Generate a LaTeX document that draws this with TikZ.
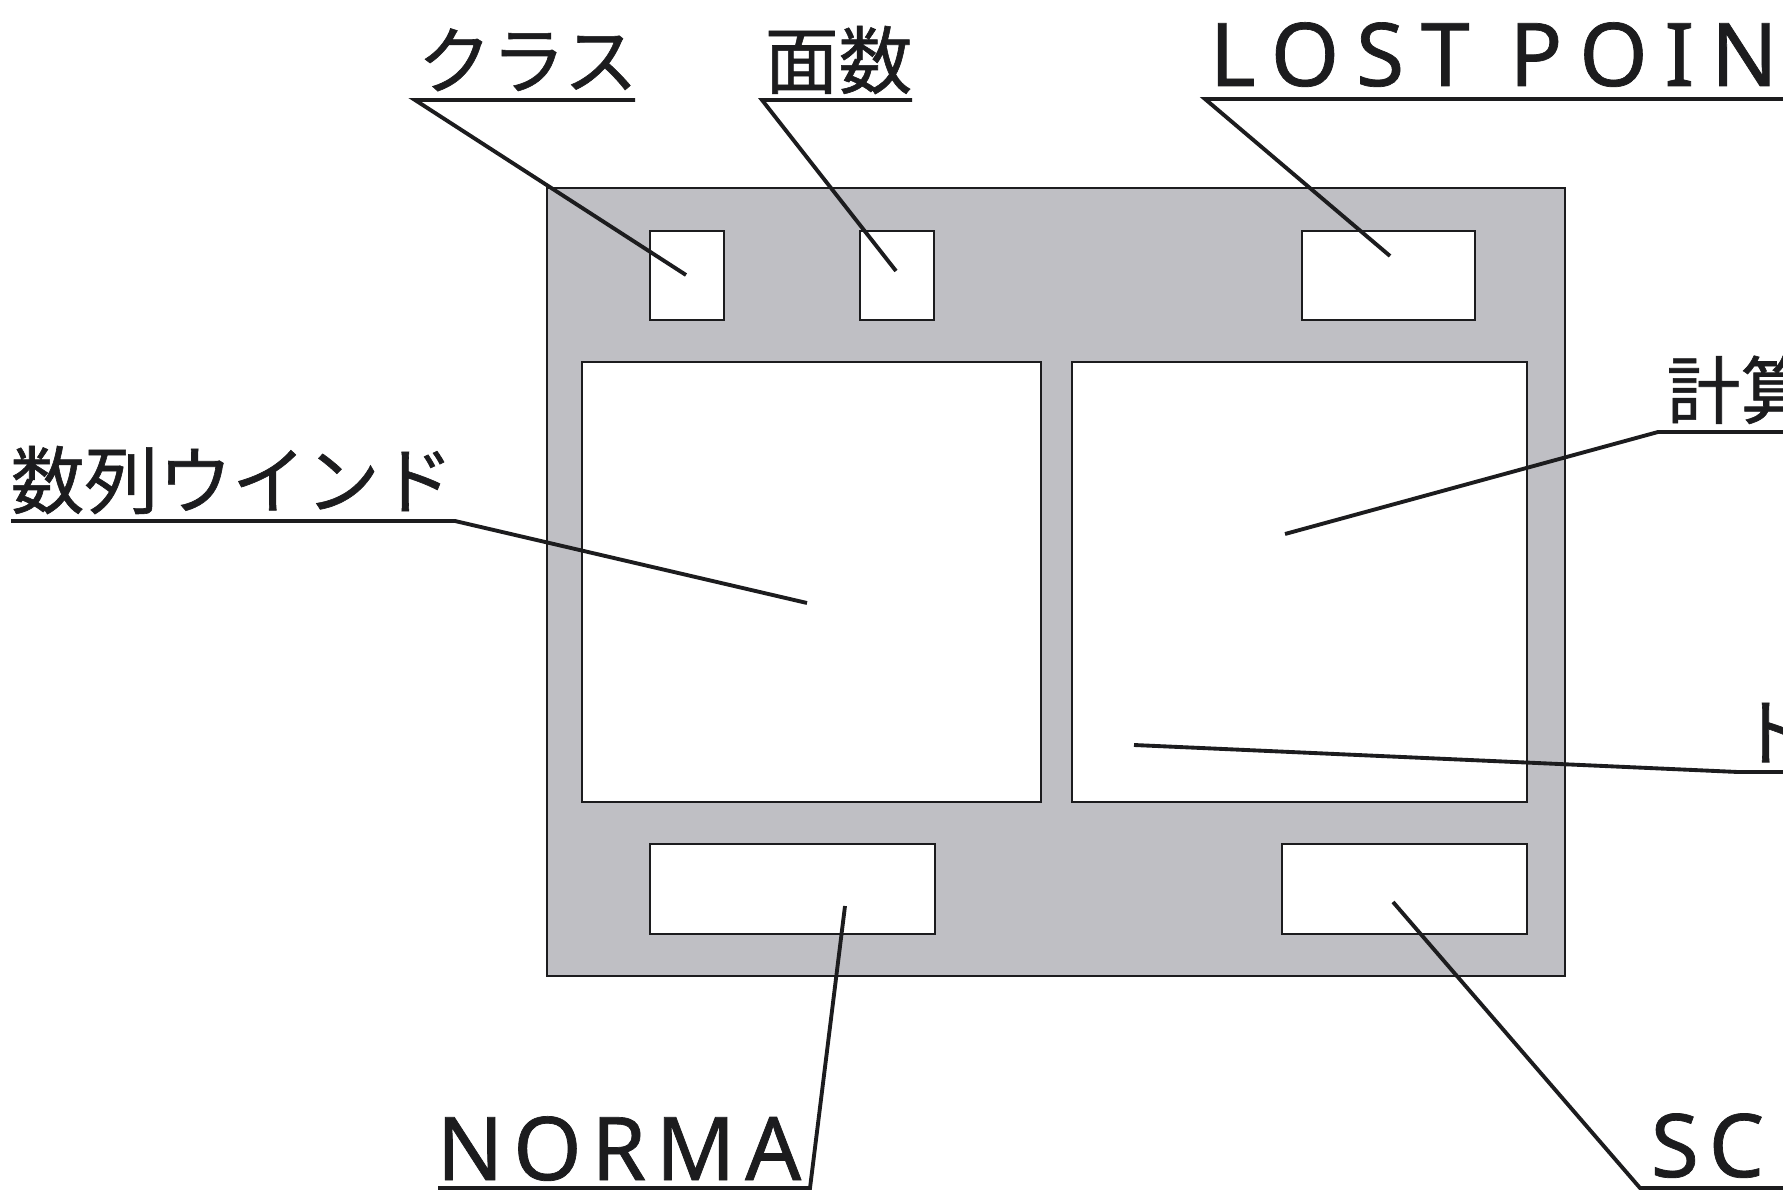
\documentclass[tikz,border=0pt]{standalone}
\usepackage{fontspec}
\setmainfont{Noto Sans}
\newfontfamily\jpfont[FakeBold=0.8]{Noto Sans CJK JP}
\newfontfamily\latinfont[LetterSpace=11,FakeBold=0.8]{Noto Sans}
\newfontfamily\widefont[LetterSpace=19,FakeBold=0.8]{Noto Sans}
\definecolor{panelgray}{RGB}{191,191,196}
\definecolor{inkblack}{RGB}{28,28,30}

\begin{document}
\begin{tikzpicture}[x=0.1mm,y=-0.1mm,
    panel/.style={draw=inkblack,line width=0.7pt,fill=panelgray,inner sep=0pt},
    win/.style={draw=inkblack,line width=0.7pt,fill=white,inner sep=0pt},
    leader/.style={draw=inkblack,line width=1.1pt,line join=miter},
    jlabel/.style={anchor=base west,inner sep=0pt,text=inkblack,text depth=0pt,
        font=\jpfont\fontsize{21pt}{21pt}\selectfont},
    elabel/.style={anchor=base west,inner sep=0pt,text=inkblack,text depth=0pt,
        font=\latinfont\fontsize{25pt}{25pt}\selectfont}]
    \useasboundingbox (0,0) rectangle (1783,1192);
    \clip (0,0) rectangle (1783,1192);
    \fill[white] (0,0) rectangle (1783,1192);

    % screen and its windows
    \node[panel,minimum width=101.8mm,minimum height=78.8mm] (screen) at (1056,582) {};
    \node[win,minimum width=7.4mm,minimum height=8.9mm] (classbox) at (687,275.5) {};
    \node[win,minimum width=7.4mm,minimum height=8.9mm] (stagebox) at (897,275.5) {};
    \node[win,minimum width=17.3mm,minimum height=8.9mm] (lostbox) at (1388.5,275.5) {};
    \node[win,minimum width=45.9mm,minimum height=44mm] (seqwin) at (811.5,582) {};
    \node[win,minimum width=45.5mm,minimum height=44mm] (calcwin) at (1299.5,582) {};
    \node[win,minimum width=28.5mm,minimum height=9mm] (normabox) at (792.5,889) {};
    \node[win,minimum width=24.5mm,minimum height=9mm] (scorebox) at (1404.5,889) {};

    % where the leaders end
    \coordinate (classpt) at (686,275);
    \coordinate (stagept) at (896,271);
    \coordinate (lostpt) at (1390,256);
    \coordinate (seqpt) at (807,603);
    \coordinate (calcpt) at (1285,534);
    \coordinate (totalpt) at (1134,745);
    \coordinate (normapt) at (845,906);
    \coordinate (scorept) at (1393,902);

    % underlines
    \coordinate (classbarL) at (415,100);   \coordinate (classbarR) at (635,100);
    \coordinate (stagebarL) at (762,100);   \coordinate (stagebarR) at (912,100);
    \coordinate (lostbarL) at (1205,99);    \coordinate (lostbarR) at (1800,99);
    \coordinate (seqbarL) at (11,521);      \coordinate (seqbarR) at (455,521);
    \coordinate (calcbarL) at (1658,432);   \coordinate (calcbarR) at (1800,432);
    \coordinate (totalbarL) at (1738,772);  \coordinate (totalbarR) at (1800,772);
    \coordinate (normabarL) at (438,1188);  \coordinate (normabarR) at (810,1188);
    \coordinate (scorebarL) at (1640,1188); \coordinate (scorebarR) at (1800,1188);

    \draw[leader] (classbarR) -- (classbarL) -- (classpt);
    \draw[leader] (stagebarR) -- (stagebarL) -- (stagept);
    \draw[leader] (lostbarR) -- (lostbarL) -- (lostpt);
    \draw[leader] (seqbarL) -- (seqbarR) -- (seqpt);
    \draw[leader] (calcbarR) -- (calcbarL) -- (calcpt);
    \draw[leader] (totalpt) -- (totalbarL) -- (totalbarR);
    \draw[leader] (normabarL) -- (normabarR) -- (normapt);
    \draw[leader] (scorebarR) -- (scorebarL) -- (scorept);

    % labels
    \node[jlabel] (classlbl) at (417,88) {クラス};
    \node[jlabel] (stagelbl) at (764,88) {面数};
    \node[elabel,font=\widefont\fontsize{25pt}{25pt}\selectfont] (lostlbl) at (1209,86) {LOST POIN};
    \node[jlabel] (seqlbl) at (10,508) {数列ウインド};
    \node[jlabel] (calclbl) at (1666,418) {計算};
    \node[jlabel] (totallbl) at (1737,760) {ト};
    \node[elabel] (normalbl) at (436,1180) {NORMA};
    \node[elabel] (scorelbl) at (1650,1177) {SC};
\end{tikzpicture}
\end{document}
